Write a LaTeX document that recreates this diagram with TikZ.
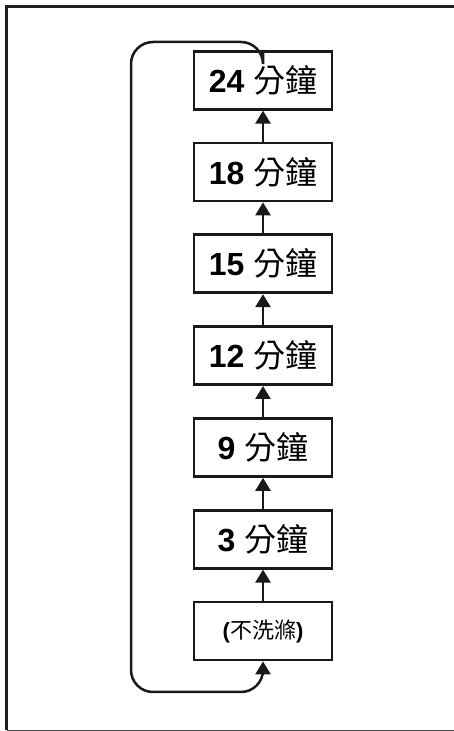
\documentclass[tikz,border=0pt]{standalone}
\usepackage{fontspec}
\setmainfont{Liberation Sans}
\newfontfamily\cjk{Noto Sans CJK TC}
\usepackage{tikz}
\usetikzlibrary{arrows.meta,positioning}

\begin{document}
\begin{tikzpicture}[
    x=1pt, y=1pt,
    node distance=31pt,
    box/.style={rectangle, draw=black!90, line width=2.8pt, fill=white, inner sep=0pt, minimum height=58pt, minimum width=138pt, font=\fontsize{32}{38}\selectfont},
    smallbox/.style={box, font=\fontsize{22}{26}\selectfont},
    arrow/.style={-{Triangle[width=15pt,length=13pt]}, line width=2.5pt, draw=black!90},
    frame/.style={line width=3pt, draw=black!88}
]
    \useasboundingbox (0,0) rectangle (454,731);

    % outer frame, open on the right
    \coordinate (fbl) at (6.5,0.6);
    \coordinate (ftl) at (6.5,724.5);
    \coordinate (ftr) at (454,724.5);
    \coordinate (fbr) at (454,0.6);
    \draw [frame] (fbl) -- (ftl) -- (ftr);
    \draw [line width=1.2pt, draw=black!70] (fbl) -- (fbr);

    \node [smallbox] (n0) at (263,100) {{\bfseries(}{\cjk 不洗滌}{\bfseries)}};
    \node [box, above=of n0] (n1) {{\bfseries 3} {\cjk 分鐘}};
    \node [box, above=of n1] (n2) {{\bfseries 9} {\cjk 分鐘}};
    \node [box, above=of n2] (n3) {{\bfseries 12} {\cjk 分鐘}};
    \node [box, above=of n3] (n4) {{\bfseries 15} {\cjk 分鐘}};
    \node [box, above=of n4] (n5) {{\bfseries 18} {\cjk 分鐘}};
    \node [box, above=of n5] (n6) {{\bfseries 24} {\cjk 分鐘}};

    \draw [arrow] (n0) -- (n1);
    \draw [arrow] (n1) -- (n2);
    \draw [arrow] (n2) -- (n3);
    \draw [arrow] (n3) -- (n4);
    \draw [arrow] (n4) -- (n5);
    \draw [arrow] (n5) -- (n6);

    % loop back from the top to the bottom
    \coordinate (looptop) at (131,689);
    \coordinate (loopbot) at (131,39);
    \draw [arrow, rounded corners=22pt] (n6.north) |- (looptop) -- (loopbot) -| (n0.south);
\end{tikzpicture}
\end{document}
